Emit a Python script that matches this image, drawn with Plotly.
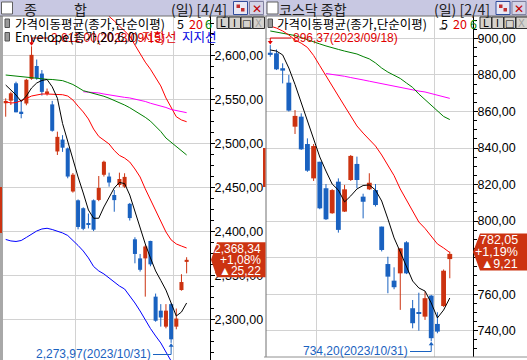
import plotly.graph_objects as go

W, H = 527, 360

# ---------------- KOSPI (종합) daily, index 0 = 2023-09-08 ... 35 = 2023-11-03 ----------------
kospi_open = [2546.3, 2549.2, 2569.0, 2536.7, 2546.0, 2574.0, 2588.6, 2580.0, 2557.0, 2545.0,
              2491.5, 2505.0, 2495.0, 2446.0, 2436.0, 2427.0, 2410.0, 2436.0, 2436.4, 2465.0,
              2463.0, 2442.0, 2453.4, 2451.5, 2432.0, 2391.7, 2370.0, 2370.0, 2389.8, 2326.5,
              2310.6, 2292.4, 2318.0, 2292.4, 2334.0, 2366.0]
kospi_high = [2551.9, 2559.4, 2570.8, 2550.0, 2574.0, 2611.0, 2596.0, 2584.0, 2563.0, 2549.0,
              2514.0, 2510.0, 2496.0, 2467.0, 2437.0, 2428.0, 2421.0, 2437.0, 2463.6, 2481.0,
              2467.4, 2447.7, 2467.4, 2466.7, 2433.0, 2394.0, 2375.0, 2385.0, 2390.0, 2330.0,
              2318.0, 2318.0, 2319.0, 2313.0, 2352.0, 2371.3]
kospi_low = [2531.0, 2544.3, 2536.0, 2529.2, 2544.0, 2573.0, 2573.0, 2555.0, 2555.0, 2514.0,
             2487.5, 2491.0, 2461.0, 2444.7, 2403.0, 2402.0, 2404.0, 2401.0, 2435.0, 2463.0,
             2451.5, 2423.0, 2451.0, 2450.0, 2413.0, 2364.4, 2355.0, 2326.5, 2361.0, 2298.0,
             2292.4, 2290.5, 2273.97, 2289.4, 2333.3, 2353.0]
kospi_close = [2548.9, 2557.6, 2536.0, 2534.9, 2573.0, 2601.3, 2574.7, 2559.2, 2559.7, 2515.0,
               2508.1, 2495.8, 2463.0, 2465.1, 2405.7, 2403.6, 2408.7, 2402.6, 2450.1, 2479.8,
               2456.2, 2436.2, 2460.2, 2462.6, 2415.8, 2375.0, 2357.0, 2383.5, 2363.2, 2299.1,
               2302.8, 2310.6, 2278.0, 2301.6, 2343.1, 2368.34]
kospi_ma5 = [2567.0, 2561.4, 2555.7, 2548.3, 2554.5, 2563.6, 2569.3, 2572.2, 2573.3, 2565.0,
             2552.0, 2523.3, 2502.0, 2481.8, 2462.5, 2444.3, 2425.0, 2415.6, 2415.6, 2428.4,
             2438.6, 2450.0, 2456.3, 2455.0, 2442.0, 2422.7, 2403.4, 2386.4, 2370.5, 2355.7,
             2345.0, 2334.0, 2319.3, 2304.5, 2309.0, 2319.3]
kospi_ma20 = [2548.0, 2546.6, 2547.0, 2549.0, 2551.7, 2554.5, 2556.0, 2556.8, 2556.8, 2556.8,
              2556.8, 2556.0, 2554.5, 2550.0, 2543.0, 2536.4, 2528.4, 2517.0, 2508.6, 2504.5,
              2500.0, 2492.6, 2487.0, 2484.0, 2479.5, 2471.6, 2462.5, 2449.0, 2436.4, 2424.0,
              2411.4, 2400.0, 2391.0, 2386.4, 2384.0, 2381.8]
kospi_ma60 = [2578.4, 2577.8, 2577.0, 2576.0, 2575.6, 2575.0, 2574.4, 2573.9, 2573.5, 2573.3,
              2572.7, 2572.0, 2569.9, 2567.6, 2564.2, 2560.6, 2559.0, 2557.6, 2556.0, 2554.2,
              2552.0, 2549.7, 2547.2, 2544.3, 2541.2, 2537.8, 2534.0, 2530.3, 2526.0, 2520.5,
              2514.2, 2506.8, 2501.7, 2497.0, 2492.0, 2487.5]
kospi_ma120 = [None] * 15 + [2559.4, 2559.0, 2558.5, 2558.0, 2556.8, 2555.7, 2554.5, 2553.8,
                             2553.0, 2552.3, 2551.1, 2550.0, 2548.3, 2546.3, 2544.9, 2543.2,
                             2541.5, 2539.2, 2538.0, 2536.7, 2535.6]
kospi_env_up = [None] * 19 + [2652.0, 2645.0, 2639.8, 2634.0, 2628.4, 2622.7, 2612.5, 2602.3,
                              2593.0, 2585.0, 2575.0, 2566.0, 2552.3, 2541.0, 2531.0, 2527.3,
                              2525.3]
kospi_env_dn = [2391.5, 2389.8, 2389.2, 2390.3, 2393.8, 2397.7, 2401.1, 2403.4, 2404.2, 2402.8,
                2401.1, 2398.9, 2396.0, 2390.9, 2384.7, 2378.4, 2370.5, 2360.8, 2355.7, 2352.3,
                2347.7, 2342.6, 2338.6, 2335.2, 2327.8, 2319.3, 2310.2, 2300.0, 2290.3, 2281.8,
                2273.9, 2263.6, 2253.4, 2245.5, 2241.0, 2238.6]
kospi_ticks = [2300, 2350, 2400, 2450, 2500, 2550, 2600]
kospi_ticktext = ["2,300,00", "2,350,00", "2,400,00", "2,450,00", "2,500,00", "2,550,00", "2,600,00"]
kospi_month_breaks = [13.5, 32.5]

# ---------------- KOSDAQ (코스닥 종합) daily, index 0 = 2023-09-18 ... 29 = 2023-11-03 ----------------
kosdaq_open = [892.2, 891.9, 883.7, 875.8, 851.7, 857.2, 842.2, 823.4, 832.5, 818.0,
               804.3, 821.6, 805.2, 822.5, 831.3, 813.4, 817.4, 817.0, 797.0, 776.5,
               767.4, 771.4, 788.4, 752.3, 750.1, 747.7, 759.2, 743.7, 753.5, 779.2]
kosdaq_high = [896.37, 894.0, 886.4, 880.0, 860.8, 859.0, 845.3, 842.2, 832.5, 820.3,
               817.5, 823.4, 819.8, 836.2, 835.3, 815.0, 826.2, 820.3, 797.0, 780.5,
               774.7, 785.1, 789.0, 756.8, 760.8, 761.4, 759.6, 750.1, 773.5, 783.3]
kosdaq_low = [890.0, 882.7, 875.4, 860.0, 847.7, 839.0, 827.0, 822.0, 806.5, 800.6,
              804.0, 793.7, 805.0, 822.0, 818.0, 801.5, 817.0, 808.0, 783.4, 760.5,
              762.7, 751.4, 771.0, 741.3, 740.0, 745.9, 734.2, 738.6, 753.0, 768.7]
kosdaq_close = [891.0, 883.1, 882.4, 860.5, 857.6, 839.3, 827.6, 841.1, 807.0, 801.0,
                817.0, 795.2, 817.4, 835.7, 822.5, 810.6, 821.0, 808.8, 784.2, 769.6,
                763.8, 785.1, 771.4, 744.1, 749.2, 757.8, 735.9, 739.5, 772.84, 782.05]
kosdaq_ma5 = [893.7, 893.1, 891.0, 883.8, 874.8, 864.7, 854.3, 844.7, 835.1, 827.4,
              820.3, 817.0, 810.5, 813.8, 817.6, 819.5, 819.8, 817.0, 811.0, 801.2,
              790.8, 783.1, 774.9, 767.2, 763.4, 761.7, 755.2, 747.0, 751.3, 757.9]
kosdaq_ma20 = [906.8, 905.7, 904.1, 901.9, 899.2, 897.4, 895.1, 890.7, 885.1, 879.3,
               874.0, 868.5, 863.0, 857.6, 852.1, 848.2, 844.4, 841.1, 836.2, 830.5,
               824.9, 817.6, 811.3, 805.0, 799.5, 796.0, 791.9, 787.5, 785.3, 782.8]
kosdaq_ma60 = [904.1, 903.5, 903.0, 902.4, 901.6, 900.5, 899.2, 898.1, 897.0, 895.9,
               894.8, 894.0, 893.1, 892.4, 891.5, 890.1, 888.8, 886.6, 883.8, 881.6,
               879.7, 878.1, 875.6, 873.2, 869.6, 866.6, 863.6, 860.3, 857.3, 855.6]
kosdaq_ma120 = [None] * 9 + [880.8, 880.4, 880.0, 879.3, 878.6, 878.1, 877.3, 876.6, 875.9,
                             875.1, 874.5, 873.9, 873.3, 872.6, 871.8, 871.2, 870.7, 869.9,
                             868.8, 868.0, 867.2]
kosdaq_ticks = [740, 760, 780, 800, 820, 840, 860, 880, 900]
kosdaq_ticktext = ["740,00", "760,00", "780,00", "800,00", "820,00", "840,00", "860,00", "880,00", "900,00"]
kosdaq_month_breaks = [7.5, 26.5]

# ---------------- geometry ----------------
TOP = 16
L_X0, L_X1, L_BOT = 3, 210, 360
R_X0, R_X1, R_BOT = 266, 473, 357
L_XR = [-0.52, 39.52]
R_XR = [-0.69, 32.75]
L_YR = [2254.5, 2645.45]
R_YR = [725.6, 912.3]

RED = "#cc3311"
BLUE = "#1a62c0"
KFONT = "Noto Sans CJK KR"
NFONT = "Liberation Sans"


def px(x):
    return x / W


def py(y):
    return 1 - y / H


def lx(i):
    return L_X0 + (i - L_XR[0]) / (L_XR[1] - L_XR[0]) * (L_X1 - L_X0)


def ly(p):
    return L_BOT - (p - L_YR[0]) / (L_YR[1] - L_YR[0]) * (L_BOT - TOP)


def rx(i):
    return R_X0 + (i - R_XR[0]) / (R_XR[1] - R_XR[0]) * (R_X1 - R_X0)


def ry(p):
    return R_BOT - (p - R_YR[0]) / (R_YR[1] - R_YR[0]) * (R_BOT - TOP)


fig = go.Figure()


def add_candles(o, h, l, c, xa, ya, minh):
    idx = list(range(len(o)))
    for color, sel in ((RED, [i for i in idx if c[i] >= o[i]]),
                       (BLUE, [i for i in idx if c[i] < o[i]])):
        wx, wy = [], []
        for i in sel:
            wx += [i, i, None]
            wy += [l[i], h[i], None]
        fig.add_trace(go.Scatter(x=wx, y=wy, mode="lines", line=dict(color=color, width=1),
                                 xaxis=xa, yaxis=ya, hoverinfo="skip", showlegend=False))
        fig.add_trace(go.Bar(x=sel, y=[max(abs(c[i] - o[i]), minh) for i in sel],
                             base=[min(o[i], c[i]) for i in sel], width=0.78,
                             marker=dict(color=color, line=dict(width=0)),
                             xaxis=xa, yaxis=ya, hoverinfo="skip", showlegend=False))


def add_line(vals, color, xa, ya):
    fig.add_trace(go.Scatter(x=list(range(len(vals))), y=vals, mode="lines",
                             line=dict(color=color, width=1), xaxis=xa, yaxis=ya,
                             hoverinfo="skip", showlegend=False))


add_candles(kospi_open, kospi_high, kospi_low, kospi_close, "x", "y", 1.3)
add_line(kospi_env_dn, "#0000ff", "x", "y")
add_line(kospi_env_up, "#ff0000", "x", "y")
add_line(kospi_ma120, "#ff00ff", "x", "y")
add_line(kospi_ma60, "#008000", "x", "y")
add_line(kospi_ma20, "#ff0000", "x", "y")
add_line(kospi_ma5, "#000000", "x", "y")

add_candles(kosdaq_open, kosdaq_high, kosdaq_low, kosdaq_close, "x2", "y2", 0.7)
add_line(kosdaq_ma120, "#ff00ff", "x2", "y2")
add_line(kosdaq_ma60, "#008000", "x2", "y2")
add_line(kosdaq_ma20, "#ff0000", "x2", "y2")
add_line(kosdaq_ma5, "#000000", "x2", "y2")

shapes = []
ann = []


def rect(x0, y0, x1, y1, fill, line=None, lw=1, layer="above"):
    shapes.append(dict(type="rect", xref="paper", yref="paper", x0=px(x0), x1=px(x1),
                       y0=py(y0), y1=py(y1), fillcolor=fill, layer=layer,
                       line=dict(color=line or fill, width=lw if line else 0)))


def seg(x0, y0, x1, y1, color, lw=1):
    shapes.append(dict(type="line", xref="paper", yref="paper", x0=px(x0), x1=px(x1),
                       y0=py(y0), y1=py(y1), line=dict(color=color, width=lw), layer="above"))


def poly(pts, fill):
    d = "M " + " L ".join(f"{px(a):.5f},{py(b):.5f}" for a, b in pts) + " Z"
    shapes.append(dict(type="path", xref="paper", yref="paper", path=d, fillcolor=fill,
                       line=dict(width=0), layer="above"))


def text(x, y, s, color="#000000", size=12, family=KFONT, anchor="left"):
    ann.append(dict(xref="paper", yref="paper", x=px(x), y=py(y), text=s, showarrow=False,
                    xanchor=anchor, yanchor="middle", font=dict(family=family, size=size, color=color)))


# ---- panel borders / frames ----
rect(0, TOP, 3, 360, "#a8a8a8")
seg(R_X0, TOP, R_X0, R_BOT, "#707070")
seg(R_X0 - 2, R_BOT, 527, R_BOT, "#909090")
rect(0, 187, 2, 233, RED)
rect(263, 148, 265.5, 187, RED)

# ---- title bars ----
for (x0, x1, t1, t2, tx1, tx2) in ((0, 264.5, None, "(일) [4/4]", 22, 229),
                                  (265.5, 527, "코스닥 종합", "(일) [2/4]", 277, 492)):
    rect(x0, 0, x1, TOP, "#c8c8e2")
    seg(x0, TOP, x1, TOP, "#707070")
    rect(x0 + 1.5, 2, x0 + 12.5, 14, "#ffffff", "#606060")
    ic = x1 - 31
    rect(ic, 1.5, ic + 14, 14.5, "#e8e8f4", "#304c9c")
    rect(ic + 3, 4.5, ic + 6.5, 8, "#c03030")
    rect(ic + 7.5, 8, ic + 11, 11.5, "#c03030")
    rect(ic + 16, 1.5, ic + 30, 14.5, "#d4d4e6", "#8080a0")
    text(ic + 23, 8.5, "✕", "#c00000", 12, "DejaVu Sans", "center")
    if t1:
        text(tx1, 8.5, t1, "#202020", 14)
    else:
        text(22, 8.5, "종", "#202020", 14)
        text(72, 8.5, "합", "#202020", 14)
    text(tx2, 8.5, t2, "#202020", 14, KFONT, "right")

# ---- legend rows ----
for (lx0, rows) in ((5, 2), (268, 1)):
    rect(lx0, 19, lx0 + 4.5, 27.5, "#9a9a9a", "#505050")
    if rows == 2:
        rect(lx0, 32.5, lx0 + 4.5, 41, "#9a9a9a", "#505050")

text(12.5, 23.5, "가격이동평균(종가,단순이평)", "#000000", 12.5)
text(174.5, 23.5, "5", "#000000", 12.5)
text(186.5, 23.5, "20", "#e00000", 12.5)
text(203, 23.5, "6", "#008000", 12.5)
text(274.5, 23.5, "가격이동평균(종가,단순이평)", "#000000", 12.5)
text(438.5, 23.5, "5", "#000000", 12.5)
seg(439.5, 29, 446, 29, "#000000")
text(451, 23.5, "20", "#e00000", 12.5)
text(468, 23.5, "6", "#008000", 12.5)

# high markers (anchored on the data's high candle)
hi_l = kospi_high.index(max(kospi_high))
hx, hy = lx(hi_l), ly(kospi_high[hi_l])
seg(hx, 38, 48, 38, "#e00000")
seg(hx, 38, hx, hy - 2, "#e00000")
poly([(hx - 2.5, hy - 4), (hx + 2.5, hy - 4), (hx, hy - 0.5)], "#e00000")
text(48.5, 38, "2,611,00(2023/09/15)", "#e00000", 12, NFONT)

text(12.5, 37, "Envelope(종가,20,6,0)", "#000000", 12.5)
text(139.5, 37, "저항선", "#e00000", 12.5)
text(180, 37, "지지선", "#0000e0", 12.5)

hi_r = kosdaq_high.index(max(kosdaq_high))
hx, hy = rx(hi_r), ry(kosdaq_high[hi_r])
seg(hx, 38, 291, 38, "#e00000")
seg(hx, 38, hx, hy - 2, "#e00000")
poly([(hx - 2.5, hy - 4), (hx + 2.5, hy - 4), (hx, hy - 0.5)], "#e00000")
text(291, 38, "896,37(2023/09/18)", "#e00000", 12, NFONT)

# low markers
lo_l = kospi_low.index(min(kospi_low))
lxp, lyp = lx(lo_l), ly(kospi_low[lo_l])
seg(153, 354.5, lxp, 354.5, BLUE)
seg(lxp, 354.5, lxp, lyp + 2, BLUE)
poly([(lxp - 2.5, lyp + 4), (lxp + 2.5, lyp + 4), (lxp, lyp + 0.5)], BLUE)
text(153, 353.5, "2,273,97(2023/10/31)", BLUE, 12, NFONT, "right")

lo_r = kosdaq_low.index(min(kosdaq_low))
lxp, lyp = rx(lo_r), ry(kosdaq_low[lo_r])
seg(410, 351.5, lxp, 351.5, BLUE)
seg(lxp, 351.5, lxp, lyp + 2, BLUE)
poly([(lxp - 2.5, lyp + 4), (lxp + 2.5, lyp + 4), (lxp, lyp + 0.5)], BLUE)
text(410, 350.5, "734,20(2023/10/31)", BLUE, 12, NFONT, "right")

# ---- L I □ X buttons ----
for bx in (217, 480):
    for k, g in enumerate(["L", "I", "□", "X"]):
        x0 = bx + 12 * k
        rect(x0, 17, x0 + 11.5, 28.5, "#d6d3ce", "#303030")
        text(x0 + 5.75, 23, g, "#000000" if k < 3 else "#a0a0a0", 10, "DejaVu Sans", "center")

# ---- current price tags ----
cy = ly(kospi_close[-1])
poly([(211, cy), (217, cy - 17.5), (265.5, cy - 17.5), (265.5, cy + 17.5), (217, cy + 17.5)], RED)
text(263, cy - 11, "2,368,34", "#ffffff", 12, NFONT, "right")
text(263, cy + 0.5, "+1,08%", "#ffffff", 12, NFONT, "right")
text(263, cy + 11.5, "▲25,22", "#ffffff", 12, NFONT, "right")

cy = ry(kosdaq_close[-1]) - 2
poly([(473, cy), (480, cy - 18.5), (527, cy - 18.5), (527, cy + 18.5), (480, cy + 18.5)], RED)
text(520, cy - 11.5, "782,05", "#ffffff", 12.5, NFONT, "right")
text(520, cy + 0.5, "+1,19%", "#ffffff", 12.5, NFONT, "right")
text(520, cy + 12, "▲9,21", "#ffffff", 12.5, NFONT, "right")

grid = "#d2d2d2"
xcommon = dict(showticklabels=False, ticks="", showgrid=True, gridcolor=grid, gridwidth=1,
               zeroline=False, showline=False, fixedrange=True)
ycommon = dict(side="right", showgrid=True, gridcolor=grid, gridwidth=1, zeroline=False,
               showline=True, linecolor="#000000", linewidth=1, ticks="outside", ticklen=4,
               tickcolor="#000000", tickfont=dict(family=NFONT, size=12.5, color="#000000"),
               ticklabelstandoff=-3, fixedrange=True)

fig.update_layout(
    width=W, height=H, margin=dict(l=0, r=0, t=0, b=0),
    paper_bgcolor="#ffffff", plot_bgcolor="#ffffff",
    barmode="overlay", showlegend=False,
    xaxis=dict(domain=[px(L_X0), px(L_X1)], range=L_XR, tickmode="array",
               tickvals=kospi_month_breaks, anchor="y", **xcommon),
    yaxis=dict(domain=[py(L_BOT), py(TOP)], range=L_YR, anchor="x", tickmode="array",
               tickvals=kospi_ticks, ticktext=kospi_ticktext,
               minor=dict(tickmode="linear", tick0=0, dtick=12.5, ticks="outside",
                          ticklen=3, tickcolor="#000000", showgrid=False), **ycommon),
    xaxis2=dict(domain=[px(R_X0), px(R_X1)], range=R_XR, tickmode="array",
                tickvals=kosdaq_month_breaks, anchor="y2", **xcommon),
    yaxis2=dict(domain=[py(R_BOT), py(TOP)], range=R_YR, anchor="x2", tickmode="array",
                tickvals=kosdaq_ticks, ticktext=kosdaq_ticktext,
                minor=dict(tickmode="linear", tick0=0, dtick=5, ticks="outside",
                           ticklen=3, tickcolor="#000000", showgrid=False), **ycommon),
    shapes=shapes, annotations=ann,
)

fig.write_html("out.html", config={"displayModeBar": False},
               post_script="document.body.style.margin='0px';document.body.style.overflow='hidden';")
